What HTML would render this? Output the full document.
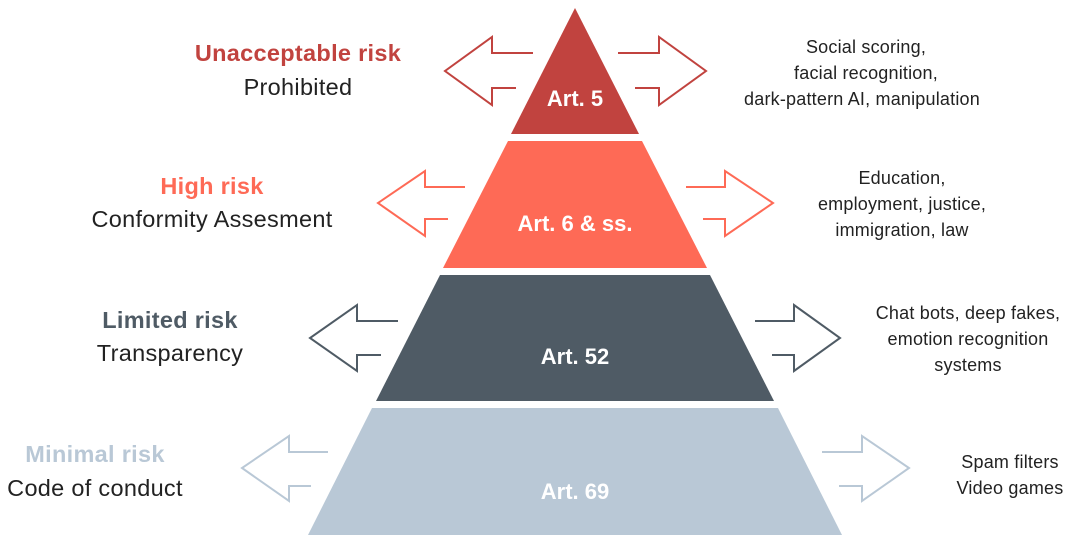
<!DOCTYPE html>
<html><head><meta charset="utf-8"><style>
html,body{margin:0;padding:0;background:#fff;}
svg{display:block;font-family:"Liberation Sans",sans-serif;}
</style></head><body>
<svg width="1068" height="545" viewBox="0 0 1068 545" xmlns="http://www.w3.org/2000/svg">
<polygon points="575,8 639,134 511,134" fill="#c1433f"/>
<polygon points="508,141 642,141 707,268 443,268" fill="#fe6a56"/>
<polygon points="440,275 710,275 774,401 376,401" fill="#4f5b65"/>
<polygon points="372,408 778,408 842,535 308,535" fill="#b9c8d6"/>
<g font-weight="bold" font-size="22" fill="#fff" text-anchor="middle">
<text x="575" y="106">Art. 5</text>
<text x="575" y="231">Art. 6 &amp; ss.</text>
<text x="575" y="364">Art. 52</text>
<text x="575" y="499">Art. 69</text>
</g>
<g fill="none" stroke-width="2">
<path d="M533,53 H492 V37 L445,71 L492,105 V88 H516" stroke="#c1433f"/>
<path d="M618,53 H659 V37 L706,71 L659,105 V88 H635" stroke="#c1433f"/>
<path d="M465,187 H425 V171 L378,203 L425,236 V219 H448" stroke="#fe6a56"/>
<path d="M686,187 H725 V171 L773,203 L725,236 V219 H703" stroke="#fe6a56"/>
<path d="M398,321 H357 V305 L310,338 L357,371 V355 H381" stroke="#4f5b65"/>
<path d="M755,321 H794 V305 L840,338 L794,371 V355 H772" stroke="#4f5b65"/>
<path d="M328,452 H289 V436 L242,468 L289,501 V486 H311" stroke="#b9c8d6"/>
<path d="M822,452 H862 V436 L909,468 L862,501 V486 H839" stroke="#b9c8d6"/>
</g>
<g font-size="23.5" text-anchor="middle" letter-spacing="0.3">
<text x="298" y="61" font-weight="bold" fill="#c1433f">Unacceptable risk</text>
<text x="298" y="95" fill="#222">Prohibited</text>
<text x="212" y="194" font-weight="bold" fill="#fe6a56">High risk</text>
<text x="212" y="227" fill="#222">Conformity Assesment</text>
<text x="170" y="328" font-weight="bold" fill="#4f5b65">Limited risk</text>
<text x="170" y="361" fill="#222">Transparency</text>
<text x="95" y="462" font-weight="bold" fill="#b9c8d6">Minimal risk</text>
<text x="95" y="496" fill="#222">Code of conduct</text>
</g>
<g font-size="18" text-anchor="middle" fill="#222" letter-spacing="0.2">
<text x="866" y="53">Social scoring,</text>
<text x="866" y="79">facial recognition,</text>
<text x="862" y="105">dark-pattern AI, manipulation</text>
<text x="902" y="184">Education,</text>
<text x="902" y="210">employment, justice,</text>
<text x="902" y="236">immigration, law</text>
<text x="968" y="319">Chat bots, deep fakes,</text>
<text x="968" y="345">emotion recognition</text>
<text x="968" y="371">systems</text>
<text x="1010" y="468">Spam filters</text>
<text x="1010" y="494">Video games</text>
</g>
</svg>
</body></html>
